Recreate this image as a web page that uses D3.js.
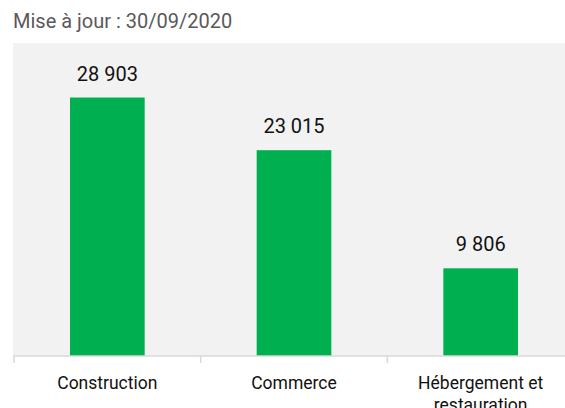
<!DOCTYPE html>
<html>
<head>
<meta charset="utf-8">
<script src="https://cdn.jsdelivr.net/npm/d3@7"></script>
<style>
  body { margin: 0; background: #fff; }
  text { font-family: Roboto, sans-serif; }
</style>
</head>
<body>
<svg id="chart" width="565" height="408"></svg>
<script>
const title = "Mise à jour : 30/09/2020"
const categories = ["Construction", "Commerce", "Hébergement et restauration"]
const values = [28903, 23015, 9806]

const width = 565, height = 408
const svg = d3.select("#chart")

// define margins
const margin = {top: 43, right: -9, bottom: 52, left: 14}

// french number format, space as thousands separator
const fr = d3.formatLocale({decimal: ",", thousands: "\u00a0", grouping: [3], currency: ["", " €"]})
const fmt = fr.format(",d")

// define x scale
const x = d3.scaleBand()
  .domain(categories)
  .range([margin.left, width - margin.right])
  .paddingInner(0.6)
  .paddingOuter(0.3)

// define y scale
const y = d3.scaleLinear()
  .domain([0, 35000])
  .range([height - margin.bottom, margin.top])

// title
svg.append("text")
  .attr("x", 13)
  .attr("y", 28)
  .attr("fill", "#595959")
  .style("font-size", "20px")
  .text(title)

// plot background
svg.append("rect")
  .attr("x", margin.left - 1)
  .attr("y", margin.top)
  .attr("width", width - margin.left + 1)
  .attr("height", height - margin.bottom - margin.top)
  .attr("fill", "#f2f2f2")

// draw bars
svg.selectAll(".bar")
  .data(values)
  .enter()
  .append("rect")
    .attr("class", "bar")
    .attr("x", (d, i) => x(categories[i]))
    .attr("y", d => y(d))
    .attr("width", x.bandwidth())
    .attr("height", d => y(0) - y(d))
    .attr("fill", "#00b050")

// value labels
svg.selectAll(".val")
  .data(values)
  .enter()
  .append("text")
    .attr("class", "val")
    .attr("x", (d, i) => x(categories[i]) + x.bandwidth() / 2)
    .attr("y", d => y(d) - 17)
    .attr("text-anchor", "middle")
    .attr("fill", "#111")
    .style("font-size", "20px")
    .text(d => fmt(d))

// x axis
const step = x.step()
const axis = svg.append("g")
  .attr("transform", "translate(0," + y(0) + ")")
axis.append("line")
  .attr("x1", margin.left - 1).attr("x2", width)
  .attr("stroke", "#d9d9d9").attr("stroke-width", 1.5)
axis.selectAll(".tick")
  .data(categories)
  .enter()
  .append("line")
    .attr("x1", d => x(d) + x.bandwidth() / 2 - step / 2)
    .attr("x2", d => x(d) + x.bandwidth() / 2 - step / 2)
    .attr("y1", 0).attr("y2", 7)
    .attr("stroke", "#d9d9d9").attr("stroke-width", 1.5)

// category labels, wrapped
const wrapWidth = 150
axis.selectAll(".lab")
  .data(categories)
  .enter()
  .append("text")
    .attr("class", "lab")
    .attr("text-anchor", "middle")
    .attr("fill", "#111")
    .style("font-size", "17.5px")
    .each(function(d) {
      const t = d3.select(this)
      const cx = x(d) + x.bandwidth() / 2
      const words = d.split(" ")
      let lines = [], cur = ""
      words.forEach(w => {
        const test = cur ? cur + " " + w : w
        t.text(test)
        if (this.getComputedTextLength() > wrapWidth && cur) { lines.push(cur); cur = w }
        else cur = test
      })
      lines.push(cur)
      t.text(null)
      lines.forEach((l, i) => {
        t.append("tspan").attr("x", cx).attr("y", 33 + i * 22).text(l)
      })
    })
</script>
</body>
</html>
